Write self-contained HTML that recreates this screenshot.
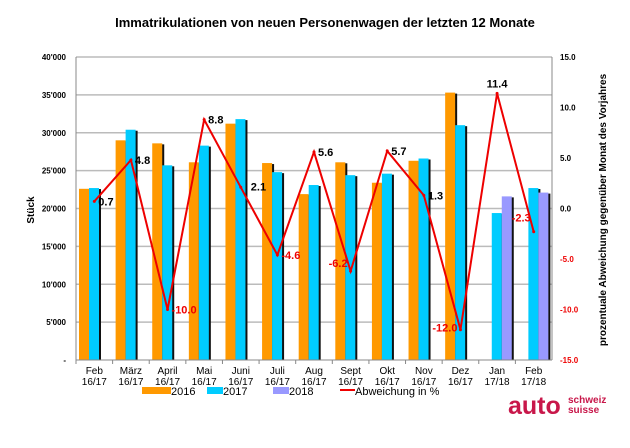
<!DOCTYPE html>
<html><head><meta charset="utf-8"><style>
body{margin:0;background:#fff;font-family:"Liberation Sans",Arial,sans-serif}
svg text{font-family:"Liberation Sans",Arial,sans-serif}
</style></head><body>
<svg id="c" width="630" height="443" xmlns="http://www.w3.org/2000/svg">
<rect width="630" height="443" fill="#fff"/>
<text x="325" y="27" text-anchor="middle" font-size="13" font-weight="bold">Immatrikulationen von neuen Personenwagen der letzten 12 Monate</text>
<text transform="translate(34,210) rotate(-90)" text-anchor="middle" font-size="10" font-weight="bold">Stück</text>
<text transform="translate(606,210) rotate(-90)" text-anchor="middle" font-size="10" font-weight="bold">prozentuale Abweichung gegenüber Monat des Vorjahres</text>
<g id="grid"></g><g id="bars"></g><g id="line"></g><g id="axes"></g>
<g>
<rect x="142" y="387" width="29" height="7" fill="#ff9900"/>
<text x="171" y="395" font-size="11">2016</text>
<rect x="207" y="387" width="16" height="7" fill="#00ccff"/>
<text x="223" y="395" font-size="11">2017</text>
<rect x="273" y="387" width="16" height="7" fill="#9999ff"/>
<text x="289" y="395" font-size="11">2018</text>
<line x1="340" y1="390" x2="355" y2="390" stroke="#e00" stroke-width="2"/>
<text x="355" y="395" font-size="11">Abweichung in %</text>
</g>
<g>
<text x="508" y="414" font-size="25" font-weight="bold" fill="#c8174a">auto</text>
<text x="568" y="403" font-size="10" font-weight="bold" fill="#c8174a">schweiz</text>
<text x="568" y="413" font-size="10" font-weight="bold" fill="#c8174a">suisse</text>
</g>
</svg>
<script>
const categories=["Feb|16/17","März|16/17","April|16/17","Mai|16/17","Juni|16/17","Juli|16/17","Aug|16/17","Sept|16/17","Okt|16/17","Nov|16/17","Dez|16/17","Jan|17/18","Feb|17/18"];
const v2016=[22600,29000,28600,26100,31200,26000,21900,26100,23400,26300,35300,null,null];
const v2017=[22700,30400,25700,28300,31800,24800,23100,24400,24600,26600,31000,19400,22700];
const v2018=[null,null,null,null,null,null,null,null,null,null,null,21600,22100];
const pct=[0.7,4.8,-10.0,8.8,2.1,-4.6,5.6,-6.2,5.7,1.3,-12.0,11.4,-2.3];
const leftTicks=["-","5'000","10'000","15'000","20'000","25'000","30'000","35'000","40'000"];
const rightTicks=["-15.0","-10.0","-5.0","0.0","5.0","10.0","15.0"];
const NS="http://www.w3.org/2000/svg";
const X0=76,X1=552,Y0=360,Y1=57;
const cw=(X1-X0)/categories.length;
const y=v=>Y0-(v/40000)*(Y0-Y1);
const y2=v=>Y0-((v+15)/30)*(Y0-Y1);
const cx=i=>X0+cw*(i+0.5);
function mk(tag,attrs,parent){const e=document.createElementNS(NS,tag);for(const k in attrs)e.setAttribute(k,attrs[k]);document.getElementById(parent).appendChild(e);return e;}
leftTicks.forEach((t,i)=>{const v=i*5000;
 if(i>0){const l=mk("line",{x1:X0,x2:X1,y1:y(v),y2:y(v),stroke:"#bbb","stroke-width":1.5},"grid");
 
 }
 const tx=mk("text",{x:66,y:y(v)+3,"text-anchor":"end","font-size":8,"font-weight":"bold"},"axes");tx.textContent=t;
 
 });
rightTicks.forEach((t,i)=>{const v=-15+i*5;
 const tx=mk("text",{x:560,y:y2(v)+3,"font-size":8,"font-weight":"bold",fill:v<0?"#e00":"#000"},"axes");tx.textContent=t;
 
 });
mk("line",{x1:X0,x2:X0,y1:Y1,y2:Y0,stroke:"#888"},"axes");
mk("line",{x1:X1,x2:X1,y1:Y1,y2:Y0,stroke:"#888"},"axes");
mk("line",{x1:X0,x2:X1,y1:Y0,y2:Y0,stroke:"#888"},"axes");
categories.forEach((c,i)=>{const x=X0+cw*i;
 mk("line",{x1:x,x2:x,y1:Y0,y2:Y0+4,stroke:"#888"},"axes");
 const p=c.split("|");
 const t1=mk("text",{x:cx(i),y:374,"text-anchor":"middle","font-size":10},"axes");t1.textContent=p[0];
 
 
 const t2=mk("text",{x:cx(i),y:385,"text-anchor":"middle","font-size":10},"axes");t2.textContent=p[1];
 
 
 [[v2016,"#ff9900"],[v2017,"#00ccff"],[v2018,"#9999ff"]].forEach((s,k)=>{const v=s[0][i];if(v==null)return;
  const bx=x+3+k*10;
  mk("rect",{x:bx+2,y:y(v)+1,width:10,height:Y0-y(v)-1,fill:"#111"},"bars");
  const r=mk("rect",{x:bx,y:y(v),width:10,height:Y0-y(v),fill:s[1]},"bars");
  
  });
});
const pl=mk("polyline",{points:pct.map((v,i)=>cx(i)+","+y2(v)).join(" "),fill:"none",stroke:"#e00","stroke-width":2},"line");


pct.forEach((v,i)=>{
 const d=mk("circle",{cx:cx(i),cy:y2(v),r:1.5,fill:"#e00"},"line");
 
 
 let lx=cx(i)+4,ly=y2(v)+4,anc="start";
 if(i===11){lx=cx(i);ly=y2(v)-6;anc="middle";}
 if(i===10||i===7||i===12){lx=cx(i)-3;anc="end";ly=y2(v)-( i===7?4:i===12?10:-2);}
 if(i===4){lx=cx(i)+10;ly=y2(v)+3;}
 const t=mk("text",{x:lx,y:ly,"text-anchor":anc,"font-size":11,"font-weight":"bold",fill:v<0?"#e00":"#000"},"line");
 t.textContent=v.toFixed(1);
 
 });
</script>
</body></html>
